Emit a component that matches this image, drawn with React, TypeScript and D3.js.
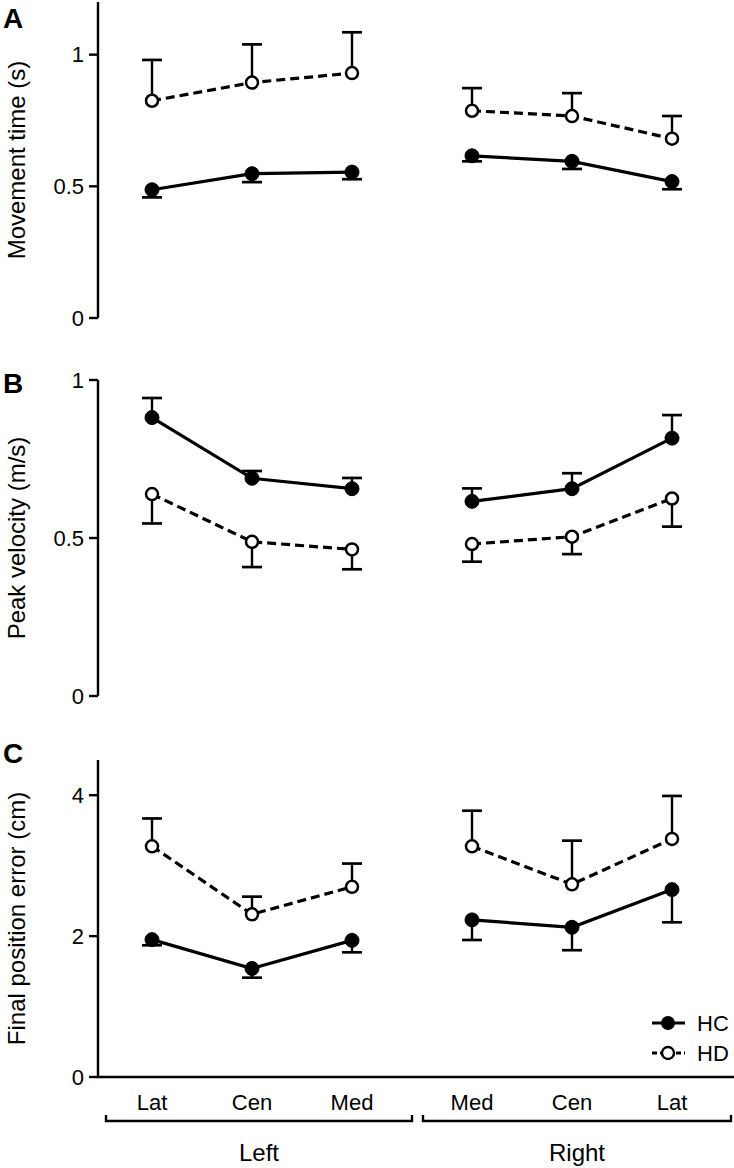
import React from 'react';
import * as d3 from 'd3';

const categories = ['Lat', 'Cen', 'Med', 'Med', 'Cen', 'Lat'];
const sides = ['Left', 'Right'];
const slots = [0, 1, 2, 3.2, 4.2, 5.2];

// Panel A: movement time (s)
const mtHC = [0.487, 0.548, 0.554, 0.616, 0.595, 0.518];
const mtHCerr = [0.458, 0.516, 0.527, 0.595, 0.566, 0.489];
const mtHD = [0.825, 0.894, 0.93, 0.787, 0.767, 0.681];
const mtHDerr = [0.98, 1.039, 1.085, 0.873, 0.854, 0.767];
const ticksA = [0, 0.5, 1];

// Panel B: peak velocity (m/s)
const pvHC = [0.881, 0.689, 0.656, 0.616, 0.656, 0.816];
const pvHCerr = [0.943, 0.712, 0.69, 0.657, 0.705, 0.889];
const pvHD = [0.639, 0.488, 0.464, 0.481, 0.504, 0.625];
const pvHDerr = [0.546, 0.408, 0.401, 0.425, 0.449, 0.536];
const ticksB = [0, 0.5, 1];

// Panel C: final position error (cm)
const feHC = [1.95, 1.54, 1.94, 2.23, 2.125, 2.66];
const feHCerr = [1.87, 1.41, 1.77, 1.945, 1.8, 2.196];
const feHD = [3.275, 2.31, 2.7, 3.275, 2.735, 3.38];
const feHDerr = [3.67, 2.56, 3.03, 3.78, 3.355, 3.99];
const ticksC = [0, 2, 4];

const W = 734;
const H = 1168;
const AX = 98;
const FONT = '"Liberation Sans", Arial, Helvetica, sans-serif';

const x = d3.scaleLinear().domain([0, 5.2]).range([152, 672]);

type PanelProps = {
  letter: string;
  title: string;
  domain: [number, number];
  range: [number, number];
  ticks: number[];
  hc: number[];
  hcErr: number[];
  hd: number[];
  hdErr: number[];
  letterY: number;
};

function Series({ vals, errs, y, open }: { vals: number[]; errs: number[]; y: d3.ScaleLinear<number, number>; open: boolean }) {
  const lineL = d3
    .line<number>()
    .x((_, i) => x(slots[i]))
    .y((d) => y(d));
  const lineR = d3
    .line<number>()
    .x((_, i) => x(slots[i + 3]))
    .y((d) => y(d));
  const dash = open ? '9,5' : undefined;
  return (
    <g>
      {vals.map((v, i) => (
        <g key={'e' + i}>
          <line x1={x(slots[i])} x2={x(slots[i])} y1={y(v)} y2={y(errs[i])} stroke="#000" strokeWidth={2.4} />
          <line x1={x(slots[i]) - 10} x2={x(slots[i]) + 10} y1={y(errs[i])} y2={y(errs[i])} stroke="#000" strokeWidth={2.7} />
        </g>
      ))}
      <path d={lineL(vals.slice(0, 3)) || ''} fill="none" stroke="#000" strokeWidth={3.2} strokeDasharray={dash} />
      <path d={lineR(vals.slice(3)) || ''} fill="none" stroke="#000" strokeWidth={3.2} strokeDasharray={dash} />
      {vals.map((v, i) => (
        <circle key={'c' + i} cx={x(slots[i])} cy={y(v)} r={open ? 6 : 7} fill={open ? '#fff' : '#000'} stroke="#000" strokeWidth={open ? 2.5 : 1} />
      ))}
    </g>
  );
}

function Panel(p: PanelProps) {
  const y = d3.scaleLinear().domain(p.domain).range(p.range);
  const mid = (p.range[0] + p.range[1]) / 2;
  return (
    <g>
      <text x={3} y={p.letterY} fontFamily={FONT} fontWeight="bold" fontSize={28} dominantBaseline="central">
        {p.letter}
      </text>
      <line x1={AX} x2={AX} y1={p.range[0]} y2={p.range[1]} stroke="#000" strokeWidth={2.4} />
      {p.ticks.map((t) => (
        <g key={t}>
          <line x1={AX - 9} x2={AX} y1={y(t)} y2={y(t)} stroke="#000" strokeWidth={2.4} />
          <text x={AX - 14} y={y(t)} textAnchor="end" dominantBaseline="central" fontFamily={FONT} fontSize={22}>
            {String(t)}
          </text>
        </g>
      ))}
      <text
        transform={`translate(16,${mid}) rotate(-90)`}
        textAnchor="middle"
        dominantBaseline="central"
        fontFamily={FONT}
        fontSize={24}
      >
        {p.title}
      </text>
      <Series vals={p.hd} errs={p.hdErr} y={y} open={true} />
      <Series vals={p.hc} errs={p.hcErr} y={y} open={false} />
    </g>
  );
}

export default function App() {
  const axisY = 1077;
  const labelY = 1102;
  const bracketY = 1121;
  const groupY = 1152;
  const brackets = [
    [106, 412],
    [423, 731],
  ];
  return (
    <svg width={W} height={H} style={{ position: 'absolute', left: 0, top: 0, background: '#fff' }}>
      <rect width={W} height={H} fill="#fff" />
      <Panel letter="A" title="Movement time (s)" domain={[0, 1.2]} range={[318, 2]} ticks={ticksA} hc={mtHC} hcErr={mtHCerr} hd={mtHD} hdErr={mtHDerr} letterY={18} />
      <Panel letter="B" title="Peak velocity (m/s)" domain={[0, 1]} range={[696, 380]} ticks={ticksB} hc={pvHC} hcErr={pvHCerr} hd={pvHD} hdErr={pvHDerr} letterY={383} />
      <Panel letter="C" title="Final position error (cm)" domain={[0, 4.5]} range={[1077, 760]} ticks={ticksC} hc={feHC} hcErr={feHCerr} hd={feHD} hdErr={feHDerr} letterY={753} />
      <line x1={AX - 1} x2={W} y1={axisY} y2={axisY} stroke="#000" strokeWidth={2.4} />
      {categories.map((c, i) => (
        <text key={i} x={x(slots[i])} y={labelY} textAnchor="middle" dominantBaseline="central" fontFamily={FONT} fontSize={22}>
          {c}
        </text>
      ))}
      {brackets.map((b, i) => (
        <g key={i}>
          <path d={`M${b[0]},${bracketY - 6}L${b[0]},${bracketY}L${b[1]},${bracketY}L${b[1]},${bracketY - 6}`} fill="none" stroke="#000" strokeWidth={2.4} />
          <text x={(b[0] + b[1]) / 2} y={groupY} textAnchor="middle" dominantBaseline="central" fontFamily={FONT} fontSize={24}>
            {sides[i]}
          </text>
        </g>
      ))}
      <g>
        <line x1={652} x2={685} y1={1023} y2={1023} stroke="#000" strokeWidth={3} />
        <circle cx={668} cy={1023} r={7} fill="#000" />
        <text x={697} y={1023} dominantBaseline="central" fontFamily={FONT} fontSize={22}>HC</text>
        <line x1={652} x2={685} y1={1053} y2={1053} stroke="#000" strokeWidth={3} strokeDasharray="5,3" />
        <circle cx={668} cy={1053} r={6} fill="#fff" stroke="#000" strokeWidth={2.4} />
        <text x={697} y={1053} dominantBaseline="central" fontFamily={FONT} fontSize={22}>HD</text>
      </g>
    </svg>
  );
}
